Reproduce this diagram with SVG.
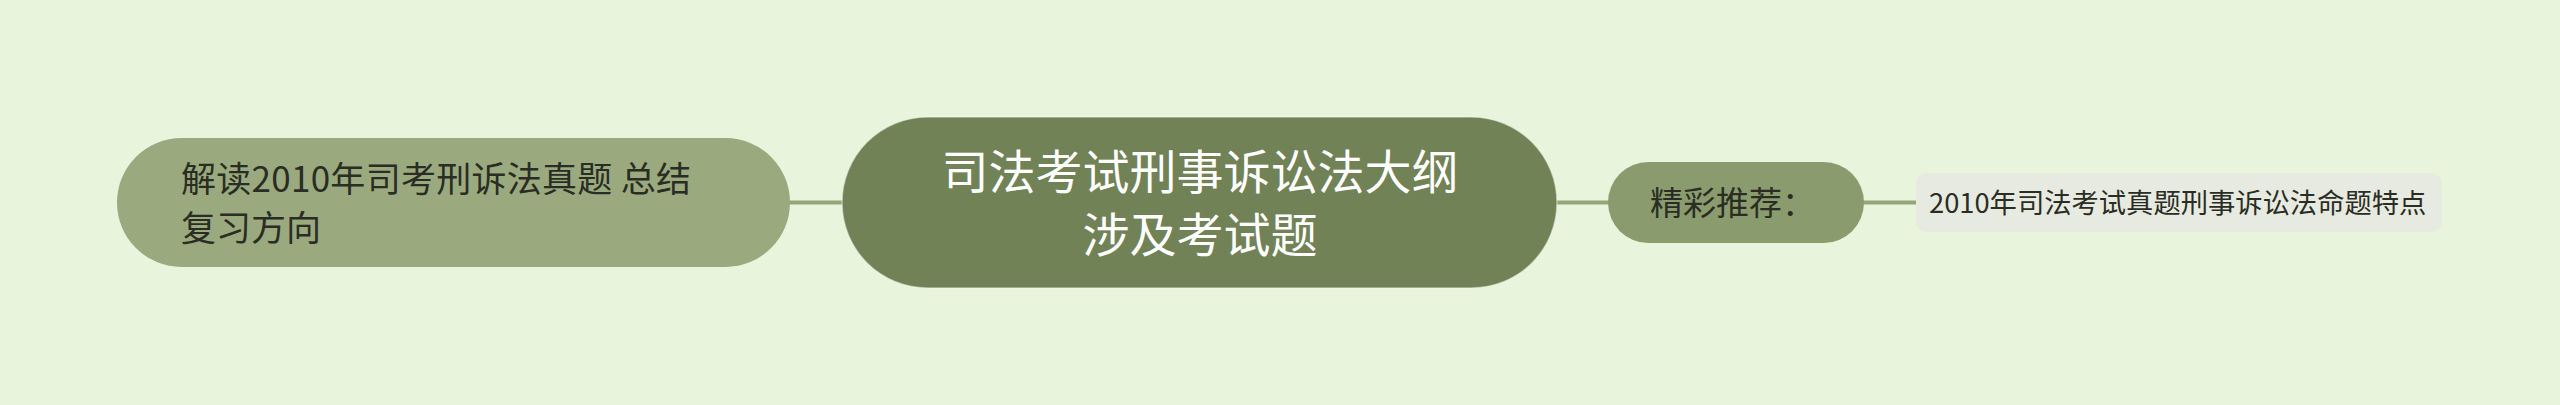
<svg xmlns="http://www.w3.org/2000/svg" width="2560" height="405" viewBox="0 0 2560 405">
<style>
text{font-family:"Noto Sans CJK SC","Noto Sans",sans-serif;}
.dark{fill:#2a2d24;}
.line{stroke:#95a57a;stroke-width:4;fill:none;}
</style>
<rect width="2560" height="405" fill="#e8f5dc"/>
<g id="connectors">
<line class="line" x1="788" y1="202.5" x2="844" y2="202.5"/>
<line class="line" x1="1555" y1="202.5" x2="1610" y2="202.5"/>
<line class="line" x1="1862" y1="202.5" x2="1918" y2="202.5" stroke="#8a9b6d" stroke-width="5"/>
</g>
<g id="node-left">
<rect x="117" y="138" width="673" height="129" rx="64.5" fill="#9aaa7e"/>
<text class="dark" font-size="35" x="181" y="192" textLength="510">解读2010年司考刑诉法真题 总结</text>
<text class="dark" font-size="35" x="181" y="241">复习方向</text>
</g>
<g id="node-center">
<rect x="842" y="117" width="715" height="171" rx="85.5" fill="#728257" stroke="#f2f8ea" stroke-opacity="0.5" stroke-width="1.5"/>
<text font-size="47" fill="#ffffff" text-anchor="middle" x="1200" y="189">司法考试刑事诉讼法大纲</text>
<text font-size="47" fill="#ffffff" text-anchor="middle" x="1200" y="252">涉及考试题</text>
</g>
<g id="node-recommend">
<rect x="1608" y="162" width="256" height="81" rx="40.5" fill="#8a9b6d"/>
<text class="dark" font-size="33" x="1650" y="215">精彩推荐：</text>
</g>
<g id="node-leaf">
<rect x="1916" y="173" width="526" height="59" rx="10" fill="#e7eae0"/>
<text class="dark" font-size="27.3" x="1929" y="212.5">2010年司法考试真题刑事诉讼法命题特点</text>
</g>
</svg>
